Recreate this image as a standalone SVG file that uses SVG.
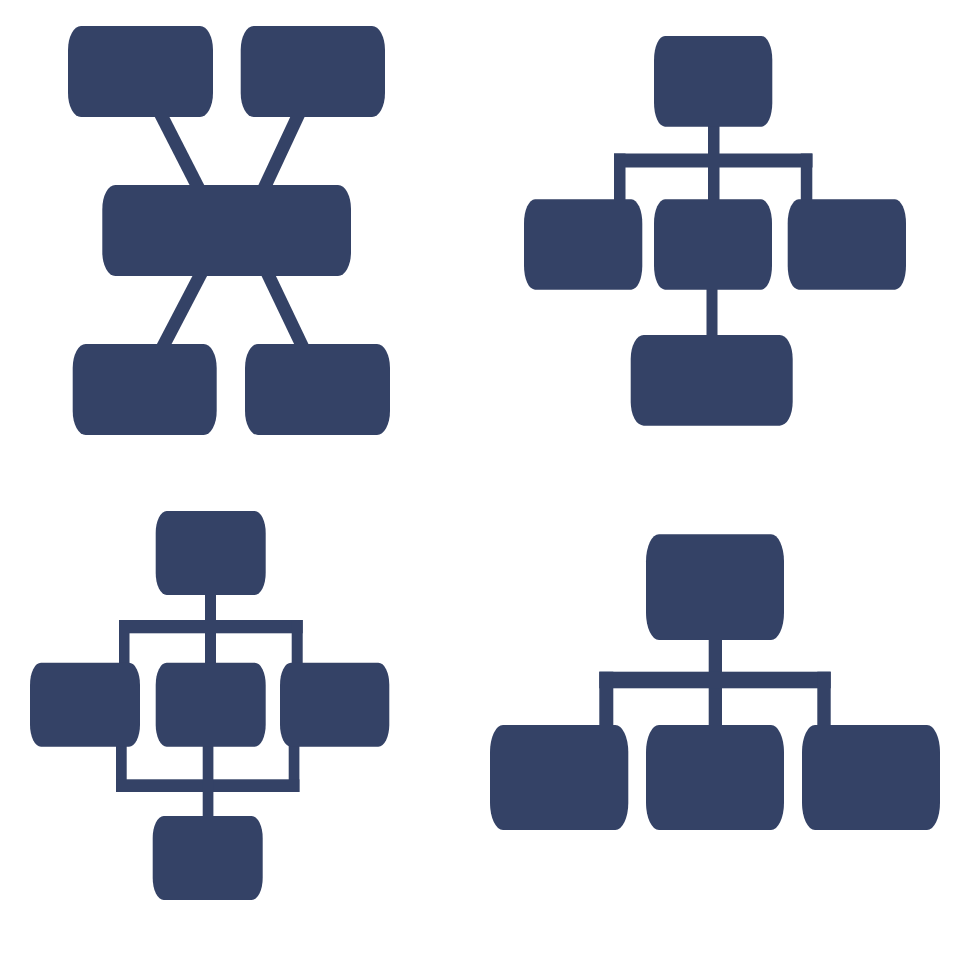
<svg xmlns="http://www.w3.org/2000/svg" width="980" height="980" viewBox="0 0 980 980">
<style>
.n{fill:#344266}
.c{stroke:#344266;fill:none;stroke-linecap:butt}
.b{fill:#344266}
</style>
<rect width="980" height="980" fill="#ffffff"/>
<g id="connectors">
  <line class="c" x1="156" y1="105" x2="203" y2="197" stroke-width="13"/>
  <line class="c" x1="303" y1="105" x2="260" y2="197" stroke-width="13"/>
  <line class="c" x1="206" y1="264" x2="158" y2="356" stroke-width="13"/>
  <line class="c" x1="263" y1="264" x2="307" y2="356" stroke-width="13"/>
  <rect class="b" x="708" y="120" width="11.5" height="85"/>
  <rect class="b" x="614" y="153.5" width="198.5" height="14"/>
  <rect class="b" x="614" y="153.5" width="11.5" height="50"/>
  <rect class="b" x="800.8" y="153.5" width="11.5" height="50"/>
  <rect class="b" x="706.5" y="285" width="11" height="55"/>
  <rect class="b" x="205" y="590" width="11" height="78"/>
  <rect class="b" x="119" y="620" width="183.7" height="13.3"/>
  <rect class="b" x="119" y="620" width="10.5" height="47"/>
  <rect class="b" x="291.7" y="620" width="11" height="47"/>
  <rect class="b" x="116" y="742" width="10.7" height="50"/>
  <rect class="b" x="288.7" y="742" width="10.7" height="50"/>
  <rect class="b" x="116" y="779.3" width="183.4" height="12.7"/>
  <rect class="b" x="202.7" y="742" width="10.7" height="78"/>
  <rect class="b" x="708.7" y="635" width="13.3" height="95"/>
  <rect class="b" x="599.3" y="671.7" width="231.4" height="16.6"/>
  <rect class="b" x="599.3" y="671.7" width="14" height="58"/>
  <rect class="b" x="817.3" y="671.7" width="13.4" height="58"/>
</g>
<g id="p1-top-left"><rect class="n" x="68" y="26" width="145" height="91" rx="13" ry="24"/></g>
<g id="p1-top-right"><rect class="n" x="240.7" y="26" width="144.3" height="91" rx="13" ry="24"/></g>
<g id="p1-center"><rect class="n" x="102.3" y="185" width="248.7" height="91" rx="13" ry="24"/></g>
<g id="p1-bottom-left"><rect class="n" x="72.7" y="344" width="144" height="91" rx="13" ry="24"/></g>
<g id="p1-bottom-right"><rect class="n" x="245" y="344" width="145" height="91" rx="13" ry="24"/></g>
<g id="p2-top"><rect class="n" x="654" y="36" width="118.3" height="90.7" rx="11" ry="24"/></g>
<g id="p2-left"><rect class="n" x="524" y="199.3" width="118.3" height="90.4" rx="11" ry="24"/></g>
<g id="p2-middle"><rect class="n" x="654" y="199.3" width="118" height="90.4" rx="11" ry="24"/></g>
<g id="p2-right"><rect class="n" x="787.7" y="199.3" width="118.3" height="90.4" rx="11" ry="24"/></g>
<g id="p2-bottom"><rect class="n" x="630.7" y="335" width="162" height="90.7" rx="13" ry="24"/></g>
<g id="p3-top"><rect class="n" x="155.7" y="511" width="110" height="84" rx="11" ry="22"/></g>
<g id="p3-left"><rect class="n" x="30" y="662.7" width="110" height="84" rx="11" ry="22"/></g>
<g id="p3-middle"><rect class="n" x="155.7" y="662.7" width="110" height="84" rx="11" ry="22"/></g>
<g id="p3-right"><rect class="n" x="280" y="662.7" width="109.3" height="84" rx="11" ry="22"/></g>
<g id="p3-bottom"><rect class="n" x="152.7" y="816" width="110" height="84" rx="11" ry="22"/></g>
<g id="p4-top"><rect class="n" x="646" y="534.3" width="138" height="105.7" rx="13" ry="27"/></g>
<g id="p4-left"><rect class="n" x="490" y="725" width="138.3" height="105" rx="13" ry="27"/></g>
<g id="p4-middle"><rect class="n" x="646" y="725" width="138" height="105" rx="13" ry="27"/></g>
<g id="p4-right"><rect class="n" x="802" y="725" width="138" height="105" rx="13" ry="27"/></g>
</svg>
